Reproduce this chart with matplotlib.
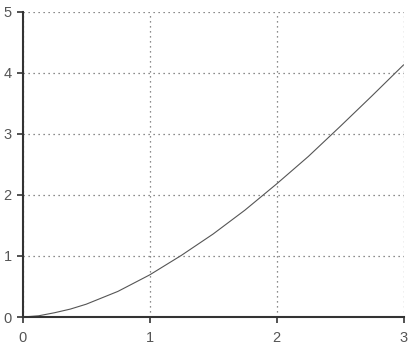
import matplotlib
matplotlib.use("Agg")
import matplotlib.pyplot as plt

# values
x_vals = [0.0, 0.125, 0.25, 0.375, 0.5, 0.75, 1.0, 1.25, 1.5, 1.75, 2.0, 2.25, 2.5, 2.75, 3.0]
y_vals = [0.0, 0.02, 0.07, 0.13, 0.21, 0.42, 0.69, 1.01, 1.36, 1.75, 2.18, 2.63, 3.12, 3.62, 4.13]

x_ticks = [0, 1, 2, 3]
y_ticks = [0, 1, 2, 3, 4, 5]

plt.rcParams['font.family'] = ['Liberation Sans', 'DejaVu Sans']

fig = plt.figure(figsize=(4.13, 3.48), dpi=100)
ax = fig.add_axes([0.055, 0.089, 0.922, 0.877])

ax.plot(x_vals, y_vals, color='#555555', linewidth=0.8)

ax.set_xlim(0, 3)
ax.set_ylim(0, 5)
ax.set_xticks(x_ticks)
ax.set_yticks(y_ticks)

# dotted grid, including the lines at x=3 and y=5 that close the box
ax.grid(True, linestyle=(0, (1, 3)), color='#666666', linewidth=0.9)
ax.set_axisbelow(True)

for side in ['top', 'right']:
    ax.spines[side].set_visible(False)
for side in ['left', 'bottom']:
    ax.spines[side].set_color('#333333')
    ax.spines[side].set_linewidth(1.5)

ax.tick_params(axis='both', colors='#333333', labelcolor='#555555',
               labelsize=10.5, length=4, width=1.2, direction='out')
ax.tick_params(axis='x', pad=6)
ax.tick_params(axis='y', pad=4)

fig.savefig("out.png", dpi=100)
